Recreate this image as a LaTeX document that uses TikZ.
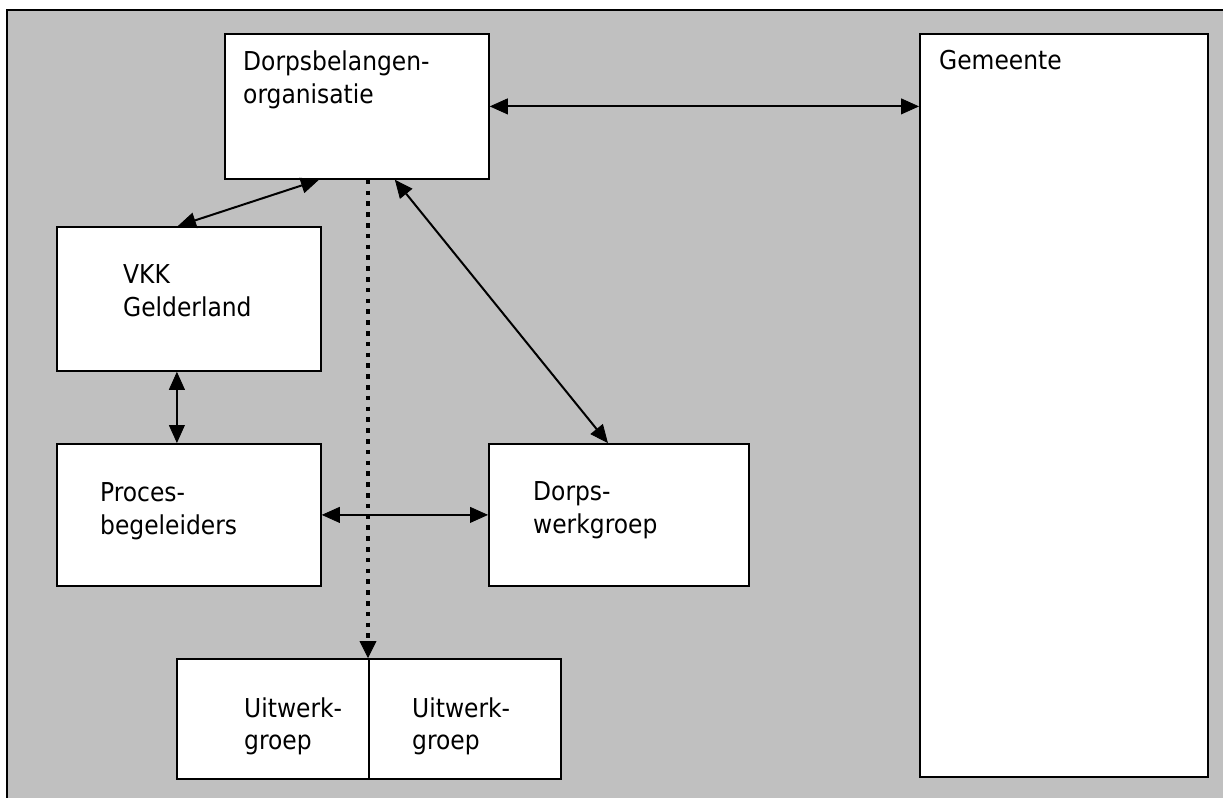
\documentclass[tikz,border=0pt]{standalone}
\usepackage{fontspec}
\setmainfont{DejaVu Sans Condensed}
\usetikzlibrary{arrows.meta,calc}
\definecolor{panel}{RGB}{192,192,192}
\begin{document}
\begin{tikzpicture}[x=1pt,y=-1pt,
  box/.style={draw=black, fill=white, line width=1.8pt, inner sep=0pt, anchor=north west},
  lbl/.style={anchor=base west, inner sep=0pt, font=\fontsize{26}{33}\selectfont},
  head/.style={Triangle[length=18pt,width=16pt,line width=0.8pt]},
  link/.style={line width=2pt, {Triangle[length=18pt,width=16pt,line width=0.8pt]}-{Triangle[length=18pt,width=16pt,line width=0.8pt]}},
  flow/.style={line width=4.6pt, dash pattern=on 4.6pt off 6.2pt, -{Triangle[length=17pt,width=17pt,line width=0.8pt]}},
]
\useasboundingbox (0,0) rectangle (1223,798);

% grey panel, framed on top and left
\fill[panel] (7,10) rectangle (1223,798);
\draw[line width=2.6pt] (1223,10) -- (7,10) -- (7,798);

% organisation boxes
\node[box, minimum width=264pt, minimum height=145pt] (dorp) at (224,33) {};
\node[box, minimum width=288pt, minimum height=743pt, line width=2.2pt] (gem) at (919,33) {};
\node[box, minimum width=264pt, minimum height=144pt] (vkk) at (56,226) {};
\node[box, minimum width=264pt, minimum height=142pt] (proc) at (56,443) {};
\node[box, minimum width=260pt, minimum height=142pt] (dwg) at (488,443) {};
\node[box, minimum width=192pt, minimum height=120pt] (uw1) at (176,658) {};
\node[box, minimum width=192pt, minimum height=120pt] (uw2) at (368,658) {};

% labels
\node[lbl] (t1a) at (243,70) {Dorpsbelangen-};
\node[lbl] (t1b) at (243,103) {organisatie};
\node[lbl] (t2) at (939,69) {Gemeente};
\node[lbl] (t3a) at (123,283) {VKK};
\node[lbl] (t3b) at (123,316) {Gelderland};
\node[lbl] (t4a) at (100,501) {Proces-};
\node[lbl] (t4b) at (100,534) {begeleiders};
\node[lbl] (t5a) at (533,500) {Dorps-};
\node[lbl] (t5b) at (533,533) {werkgroep};
\node[lbl] (t6a) at (244,717) {Uitwerk-};
\node[lbl] (t6b) at (244,749) {groep};
\node[lbl] (t7a) at (412,717) {Uitwerk-};
\node[lbl] (t7b) at (412,749) {groep};

% connections
\draw[link] (dorp.east) -- (gem.west |- dorp.east);
\draw[link] ($(dorp.south)+(-38,0)$) -- ($(vkk.north)+(-11,0)$);
\draw[link] ($(dorp.south)+(38,0)$) -- ($(dwg.north)+(-11,0)$);
\draw[link] ($(vkk.south)+(-12,0)$) -- ($(proc.north)+(-12,0)$);
\draw[link] (proc.east) -- (dwg.west);
\draw[flow] (dorp.south -| uw2.north west) -- (uw2.north west);
\end{tikzpicture}
\end{document}
